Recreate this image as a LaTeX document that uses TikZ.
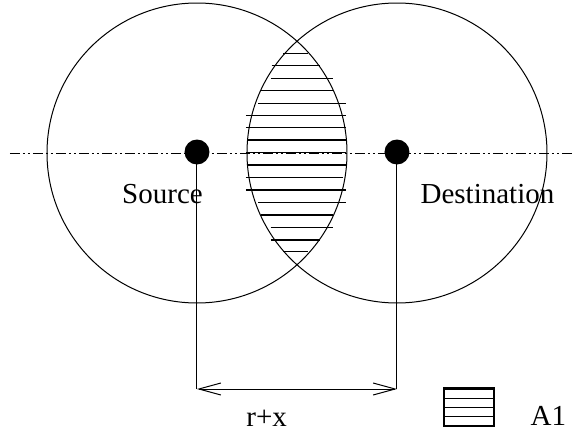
\documentclass[tikz,border=0pt]{standalone}
\usepackage{fontspec}
\setmainfont{Liberation Serif}
\usepackage{tikz}
\usetikzlibrary{arrows.meta,positioning}

\begin{document}
\begin{tikzpicture}[
    x=0.5pt, y=-0.5pt,
    disk/.style={circle, draw, line width=0.5pt, minimum size=150pt, inner sep=0pt},
    dot/.style={circle, fill=black, minimum size=12.5pt, inner sep=0pt},
    lbl/.style={inner sep=0pt, anchor=base, font=\fontsize{14.5}{17}\selectfont},
    axis/.style={line width=0.5pt, dash pattern=on 5pt off 1.5pt on 1pt off 1.5pt on 1pt off 1.5pt},
    hatch/.style={line width=0.6pt},
    dim/.style={line width=0.5pt}
]
    \useasboundingbox (0,0) rectangle (575,434);

    % Ranges of the two stations
    \node[disk] (srcdisk) at (197,153) {};
    \node[disk] (dstdisk) at (397,153) {};

    % Overlap area
    \foreach \y/\xa/\xb in {53.3/283.3/308.3, 65.7/271.7/320, 78.3/271/332.7,
        90.7/260/332.7, 103.3/258.3/346, 115.7/246/346, 127.7/246/346,
        140/247.3/346, 152.7/246/346, 165/246.7/346, 177.7/246/342.7,
        190/246/346, 202.3/258.3/346, 215/260.7/332.7, 227.3/270.7/332.7,
        240/270.7/320, 251.7/283.3/308.3}
        \draw[hatch] (\xa,\y) -- (\xb,\y);

    % Axis through both stations
    \coordinate (axl) at (10,153);
    \coordinate (axr) at (575,153);
    \draw[axis] (axl) -- (axr);

    % Stations
    \node[dot] (src) at (197,152) {};
    \node[dot] (dst) at (397,152) {};
    \node[lbl] (srclabel) at (162.5,203) {Source};
    \node[lbl] (dstlabel) at (487.5,203) {Destination};

    % Distance between the stations
    \coordinate (srcfoot) at (197,389);
    \coordinate (dstfoot) at (397,389);
    \draw[dim] (src.center) -- (srcfoot);
    \draw[dim] (dst.center) -- (dstfoot);
    \draw[dim, {Straight Barb[length=11pt,width=6pt]}-{Straight Barb[length=11pt,width=6pt]}] (srcfoot) -- (dstfoot);
    \node[lbl] (dist) at (266.7,426.5) {r+x};

    % Legend
    \node[draw, line width=0.6pt, minimum width=25pt, minimum height=18.5pt, inner sep=0pt] (key) at (469,407.5) {};
    \foreach \y in {398.5,407.5,416.5}
        \draw[hatch] (444,\y) -- (494,\y);
    \draw[line width=1pt] (key.north west) -- (key.north east);
    \node[lbl] (keylabel) at (548.3,425.7) {A1};
\end{tikzpicture}
\end{document}
